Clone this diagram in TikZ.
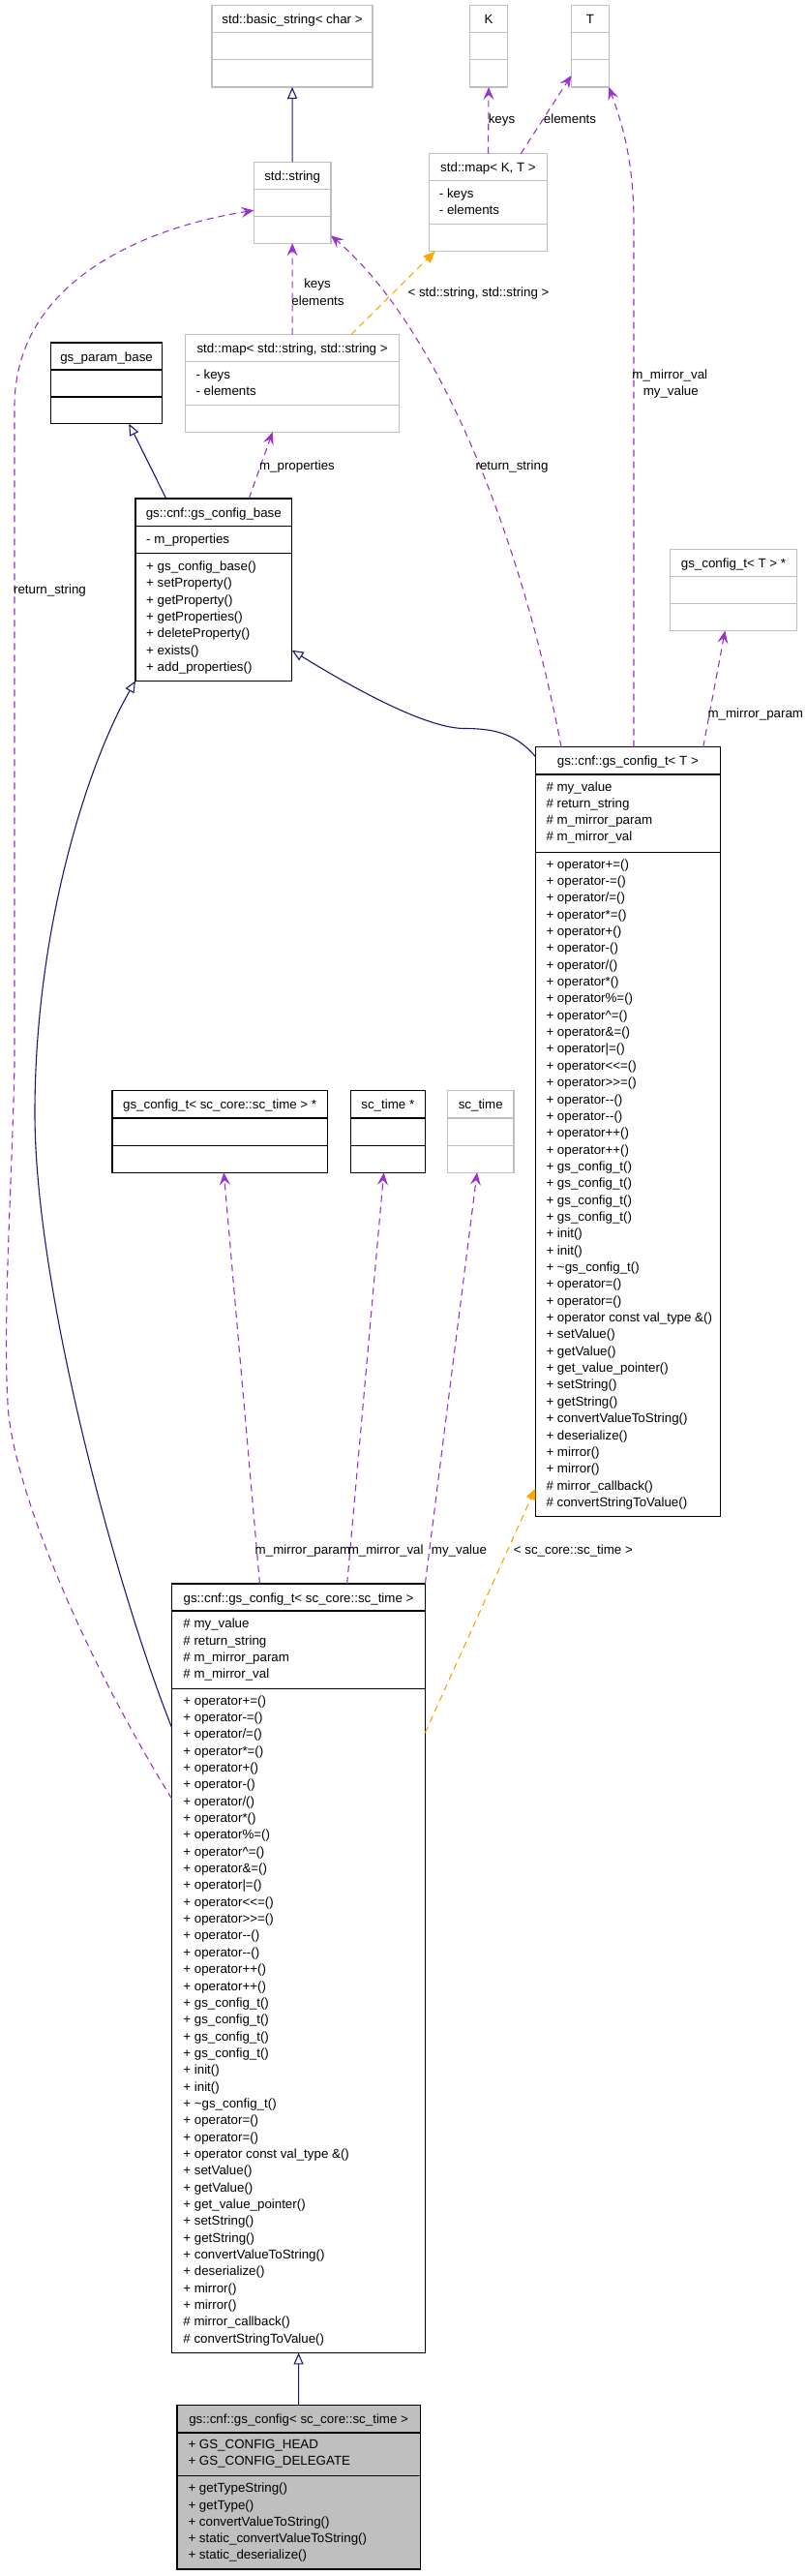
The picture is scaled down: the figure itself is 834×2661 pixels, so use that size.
\documentclass[tikz,border=0pt]{standalone}
\usepackage{fontspec}
\setmainfont{Liberation Sans}
\usetikzlibrary{arrows.meta,calc}
\definecolor{edgenavy}{HTML}{191970}
\definecolor{edgeorchid}{HTML}{9A32CD}
\definecolor{edgeorange}{HTML}{FFA500}
\definecolor{boxgray}{HTML}{BFBFBF}
\newcommand\dfont{\fontsize{13.33}{17.33}\selectfont}
% name, style, x1, y1, x2, y2, divider1, divider2, header
\newcommand\umlbox[9]{%
  \node[#2, anchor=north west, minimum width={#5-#3}, minimum height={#6-#4}] (#1) at (#3,#4) {};
  \draw[#2] (#3,#7) -- (#5,#7);
  \draw[#2] (#3,#8) -- (#5,#8);
  \node[hdr] (#1-h) at ({(#3+#5)/2},{#4+14.2}) {#9};
}
% prefix, x, y0, dy, list
\newcommand\rowlist[5]{%
  \foreach \t [count=\i from 0] in #5 {
    \node[member] (#1\i) at (#2,{#3+\i*#4}) {\t};
  }
}
\def\cfgmethods{+ operator+=(),%
+ operator-=(),%
+ operator/=(),%
+ operator*=(),%
+ operator+(),%
+ operator-(),%
+ operator/(),%
+ operator*(),%
+ operator\%=(),%
+ operator\textasciicircum=(),%
+ operator\&=(),%
+ operator|=(),%
+ operator<\kern0pt<=(),%
+ operator>\kern0pt>=(),%
+ operator-\kern0pt-(),%
+ operator-\kern0pt-(),%
+ operator++(),%
+ operator++(),%
+ gs\_config\_t(),%
+ gs\_config\_t(),%
+ gs\_config\_t(),%
+ gs\_config\_t(),%
+ init(),%
+ init(),%
+ \textasciitilde gs\_config\_t(),%
+ operator=(),%
+ operator=(),%
+ operator const val\_type \&(),%
+ setValue(),%
+ getValue(),%
+ get\_value\_pointer(),%
+ setString(),%
+ getString(),%
+ convertValueToString(),%
+ deserialize(),%
+ mirror(),%
+ mirror(),%
\# mirror\_callback(),%
\# convertStringToValue()}
\def\cfgattrs{\# my\_value,%
\# return\_string,%
\# m\_mirror\_param,%
\# m\_mirror\_val}

\begin{document}
\begin{tikzpicture}[x=1pt,y=-1pt,
  docbox/.style={draw=black, fill=white, line width=1.3pt, inner sep=0pt, outer sep=0pt},
  undocbox/.style={draw=boxgray, fill=white, line width=1.3pt, inner sep=0pt, outer sep=0pt},
  curbox/.style={draw=black, fill=boxgray, line width=1.3pt, inner sep=0pt, outer sep=0pt},
  member/.style={anchor=west, inner sep=0pt, text height=9.6pt, text depth=0pt, font=\dfont},
  hdr/.style={anchor=center, inner sep=0pt, text height=9.6pt, text depth=0pt, font=\dfont},
  lbl/.style={hdr},
  inh/.style={draw=edgenavy, line width=1.1pt, -{Triangle[open, length=12pt, width=10pt]}},
  use/.style={draw=edgeorchid, line width=1.1pt, dash pattern=on 7pt off 5pt, -{Stealth[length=13pt, width=11pt, inset=5pt]}},
  tmpl/.style={draw=edgeorange, line width=1.1pt, dash pattern=on 7pt off 5pt, -{Triangle[length=12pt, width=10pt]}}
]
\fill[white] (0,0) rectangle (834,2661);
\useasboundingbox (0,0) rectangle (834,2661);

% ---------- classes ----------
\umlbox{bstr}{undocbox}{219}{5.7}{385.1}{90}{33.7}{61.7}{std::basic\_string< char >}
\umlbox{K}{undocbox}{485.6}{5.7}{524.5}{90}{33.7}{61.7}{K}
\umlbox{T}{undocbox}{590.4}{5.7}{629.3}{90}{33.7}{61.7}{T}
\umlbox{str}{undocbox}{262.3}{167.3}{342}{251.3}{195.3}{223.3}{std::string}
\umlbox{mapKT}{undocbox}{443.6}{158.7}{565.4}{259.7}{186.7}{231.7}{std::map< K, T >}
\rowlist{mapKTa}{453.7}{200}{16.7}{{- keys,- elements}}
\umlbox{pbase}{docbox}{52.7}{354}{167.4}{437.7}{382}{410}{gs\_param\_base}
\umlbox{mapSS}{undocbox}{191.4}{345.5}{412.8}{446.3}{373.3}{418.3}{std::map< std::string, std::string >}
\rowlist{mapSSa}{202.3}{386.7}{17.3}{{- keys,- elements}}
\umlbox{cbase}{docbox}{140}{515}{301.6}{703.3}{543.3}{571.7}{gs::cnf::gs\_config\_base}
\rowlist{cbasea}{151}{556.7}{17.33}{{- m\_properties}}
\rowlist{cbasem}{151}{584.7}{17.33}{{+ gs\_config\_base(),+ setProperty(),+ getProperty(),+ getProperties(),+ deleteProperty(),+ exists(),+ add\_properties()}}
\umlbox{ptrT}{undocbox}{692.6}{567.3}{823.4}{651.5}{595.3}{623.3}{gs\_config\_t< T > *}
\umlbox{cfgT}{docbox}{553.5}{771.7}{744.2}{1566.4}{800}{880.4}{gs::cnf::gs\_config\_t< T >}
\rowlist{cfgTa}{564.3}{812.4}{17.25}{\cfgattrs}
\rowlist{cfgTm}{564.3}{892.3}{17.35}{\cfgmethods}
\umlbox{ptrTime}{docbox}{116}{1126.7}{338.3}{1211.2}{1155}{1183.3}{gs\_config\_t< sc\_core::sc\_time > *}
\umlbox{scptr}{docbox}{362.2}{1126.7}{439.4}{1211.2}{1155}{1183.3}{sc\_time *}
\umlbox{sctime}{undocbox}{462.5}{1126.7}{531}{1211.2}{1155}{1183.3}{sc\_time}
\umlbox{cfgTime}{docbox}{177.7}{1636}{439.4}{2430.4}{1664}{1744.3}{gs::cnf::gs\_config\_t< sc\_core::sc\_time >}
\rowlist{cfgTimea}{189.2}{1677}{17.2}{\cfgattrs}
\rowlist{cfgTimem}{189.2}{1756.4}{17.34}{\cfgmethods}
\umlbox{cfg}{curbox}{183}{2484.3}{434.3}{2654}{2513.1}{2557.8}{gs::cnf::gs\_config< sc\_core::sc\_time >}
\rowlist{cfga}{194.3}{2524.5}{17.6}{{+ GS\_CONFIG\_HEAD,+ GS\_CONFIG\_DELEGATE}}
\rowlist{cfgm}{194.3}{2570}{17.2}{{+ getTypeString(),+ getType(),+ convertValueToString(),+ static\_convertValueToString(),+ static\_deserialize()}}

% ---------- connectors ----------
\draw[inh] (str.north) -- (bstr.south);
\draw[use] (mapSS.north) -- (str.south);
\node[lbl] (l-keys1) at (328,292.7) {keys};
\node[lbl] (l-elem1) at (328.5,310.7) {elements};
\draw[tmpl] ($(mapSS.north west)+(171.4,0)$) -- ($(mapKT.south west)+(6,0)$);
\node[lbl] (l-tss) at (494.5,302) {< std::string, std::string >};
\draw[use] (mapKT.north) -- (K.south);
\node[lbl] (l-keys2) at (518.5,122.7) {keys};
\draw[use] ($(mapKT.north west)+(94.7,0)$) -- ($(T.south west)+(0,-12)$);
\node[lbl] (l-elem2) at (589,122.7) {elements};
\draw[use] ($(cfgT.north west)+(101.5,0)$) -- (655,230) .. controls (655,160) and (640,120) .. (T.south east);
\node[lbl] (l-mmv1) at (692.3,386.7) {m\_mirror\_val};
\node[lbl] (l-myv1) at (693.3,404) {my\_value};
\draw[use] ($(cfgT.north west)+(26.5,0)$) .. controls (540,560) and (455,340) .. ($(str.south east)+(0,-8)$);
\node[lbl] (l-rs1) at (529,480.7) {return\_string};
\draw[use] ($(cbase.north west)+(117.3,0)$) -- ($(mapSS.south west)+(90.3,0)$);
\node[lbl] (l-mprop) at (307,480.7) {m\_properties};
\draw[inh] ($(cbase.north west)+(31.7,0)$) -- ($(pbase.south west)+(80.6,0)$);
\draw[inh] ($(cfgT.north west)+(0,10)$) .. controls (535,760) and (515,752.5) .. (480,752.5) .. controls (445,752.5) and (380,720) .. ($(cbase.north east)+(0,156.7)$);
\draw[use] ($(cfgT.north west)+(173.2,0)$) -- ($(ptrT.south west)+(56.7,0)$);
\node[lbl] (l-mmp1) at (780.8,736.7) {m\_mirror\_param};
\draw[use] ($(cfgTime.north west)+(90.7,0)$) -- ($(ptrTime.south west)+(115.3,0)$);
\node[lbl] (l-mmp2) at (313,1600.8) {m\_mirror\_param};
\draw[use] ($(cfgTime.north west)+(181,0)$) -- ($(scptr.south west)+(34.4,0)$);
\node[lbl] (l-mmv2) at (398.7,1600.8) {m\_mirror\_val};
\draw[use] (cfgTime.north east) -- ($(sctime.south west)+(30.5,0)$);
\node[lbl] (l-myv2) at (474.5,1600.8) {my\_value};
\draw[tmpl] ($(cfgTime.north east)+(0,154)$) -- ($(cfgT.north west)+(0,765.6)$);
\node[lbl] (l-tsc) at (592.4,1600.8) {< sc\_core::sc\_time >};
\draw[inh] ($(cfgTime.north west)+(0,149)$) .. controls (120,1640) and (36,1330) .. (36,1150) .. controls (36,960) and (90,790) .. (cbase.south west);
\draw[use] ($(cfgTime.north west)+(0,222.3)$) .. controls (80,1700) and (12,1530) .. (8,1450) .. controls (3,1360) and (12,1230) .. (15,1100) -- (15,420) .. controls (15,290) and (150,235) .. ($(str.north west)+(0,50)$);
\node[lbl] (l-rs2) at (51.5,609) {return\_string};
\draw[inh] (cfg.north) -- (cfgTime.south);
\end{tikzpicture}
\end{document}
